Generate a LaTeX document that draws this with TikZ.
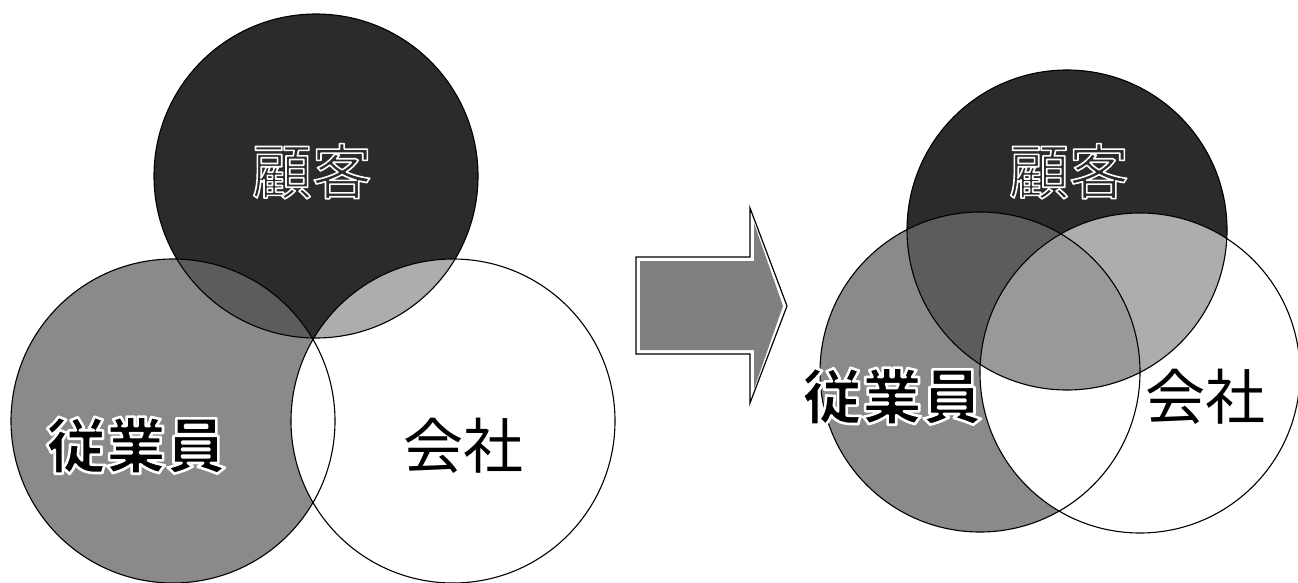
\documentclass[tikz,border=0pt]{standalone}
\usepackage{fontspec}
\newfontfamily\jp{Noto Sans CJK JP}
\definecolor{kdark}{gray}{0.17}
\definecolor{empgray}{gray}{0.54}
\definecolor{lensEK}{gray}{0.36}
\definecolor{lensKC}{gray}{0.68}
\definecolor{tripgray}{gray}{0.6}
\definecolor{arrowgray}{gray}{0.5}
% text filled in its colour and stroked in white (halo), as one text
\newcommand\whiteedge[2]{\special{pdf:literal direct 2 Tr #1 w 1 G 1 j}#2\special{pdf:literal direct 0 Tr}}
\begin{document}
\begin{tikzpicture}[x=1pt,y=-1pt,
  outline/.style={draw=black,line width=1.1pt},
  lbl/.style={font=\jp\fontsize{60}{60}\selectfont,inner sep=0pt,anchor=base}]
\useasboundingbox (0,0) rectangle (1298,583);
\fill[white] (0,0) rectangle (1298,583);

% ---------- left diagram ----------
\coordinate (kL) at (316,176);
\coordinate (eL) at (173,421);
\coordinate (cL) at (453,421);
\def\rL{162}
\fill[kdark] (kL) circle[radius=\rL];
\fill[empgray] (eL) circle[radius=\rL];
\begin{scope}
  \clip (eL) circle[radius=\rL];
  \fill[lensEK] (kL) circle[radius=\rL];
\end{scope}
\fill[white] (cL) circle[radius=\rL];
\begin{scope}
  \clip (cL) circle[radius=\rL];
  \fill[lensKC] (kL) circle[radius=\rL];
\end{scope}
\draw[outline] (kL) circle[radius=\rL];
\draw[outline] (eL) circle[radius=\rL];
\draw[outline] (cL) circle[radius=\rL];

% ---------- arrow ----------
\filldraw[fill=white,draw=black,line width=1.2pt]
  (636,257) -- (750,257) -- (750,208) -- (787,306) -- (750,403) -- (750,354) -- (636,354) -- cycle;
\fill[arrowgray]
  (640,261) -- (754,261) -- (754,223) -- (783,306) -- (754,389) -- (754,350) -- (640,350) -- cycle;

% ---------- right diagram ----------
\coordinate (kR) at (1067,230);
\coordinate (eR) at (980,372);
\coordinate (cR) at (1140,373);
\def\rR{160}
\fill[kdark] (kR) circle[radius=\rR];
\fill[empgray] (eR) circle[radius=\rR];
\begin{scope}
  \clip (eR) circle[radius=\rR];
  \fill[lensEK] (kR) circle[radius=\rR];
\end{scope}
\fill[white] (cR) circle[radius=\rR];
\begin{scope}
  \clip (cR) circle[radius=\rR];
  \fill[lensKC] (kR) circle[radius=\rR];
  \clip (eR) circle[radius=\rR];
  \fill[tripgray] (kR) circle[radius=\rR];
\end{scope}
\draw[outline] (kR) circle[radius=\rR];
\draw[outline] (eR) circle[radius=\rR];
\draw[outline] (cR) circle[radius=\rR];

% ---------- labels ----------
\node[lbl,text=kdark] (kokyakuL) at (312,194) {\whiteedge{1.6}{顧客}};
\node[lbl,text=black] (juugyouinL) at (136,468) {\whiteedge{2.6}{\bfseries 従業員}};
\node[lbl,text=black] (kaishaL) at (463,468) {会社};
\node[lbl,text=kdark] (kokyakuR) at (1069,194) {\whiteedge{1.6}{顧客}};
\node[lbl,text=black] (juugyouinR) at (892,419) {\whiteedge{2.6}{\bfseries 従業員}};
\node[lbl,text=black] (kaishaR) at (1205,419) {会社};
\end{tikzpicture}
\end{document}
